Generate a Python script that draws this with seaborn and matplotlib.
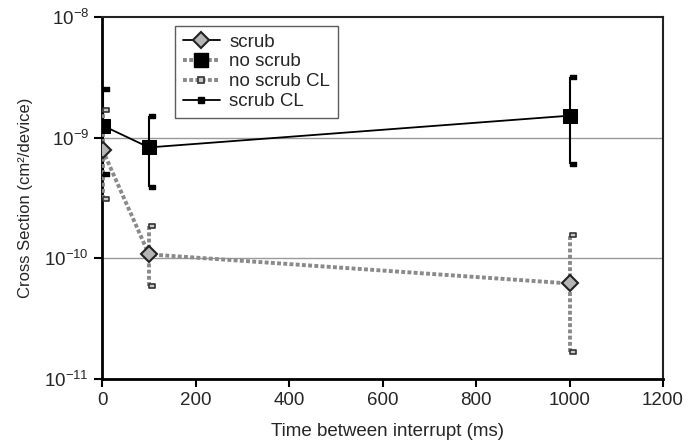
import numpy as np
import pandas as pd
import matplotlib
matplotlib.use("Agg")
import matplotlib.pyplot as plt
from matplotlib.lines import Line2D
from matplotlib.path import Path
import seaborn as sns

# data (log-scale cross sections)
time_ms = [1, 100, 1000]
no_scrub = [1.26e-9, 8.3e-10, 1.52e-9]
no_scrub_hi = [2.55e-9, 1.52e-9, 3.2e-9]
no_scrub_lo = [5.0e-10, 3.9e-10, 6.0e-10]
scrub = [7.9e-10, 1.08e-10, 6.2e-11]
scrub_hi = [1.7e-9, 1.84e-10, 1.55e-10]
scrub_lo = [3.1e-10, 5.9e-11, 1.67e-11]

x_ticks = [0, 200, 400, 600, 800, 1000, 1200]
y_ticks = [1e-11, 1e-10, 1e-9, 1e-8]
y_ticklabels = [r"$\mathregular{10^{-11}}$", r"$\mathregular{10^{-10}}$",
                r"$\mathregular{10^{-9}}$", r"$\mathregular{10^{-8}}$"]

sns.set_style("white")
plt.rcParams["font.family"] = ["Liberation Sans", "DejaVu Sans"]

df = pd.DataFrame({
    "time": time_ms * 2,
    "cs": no_scrub + scrub,
    "series": ["no scrub"] * 3 + ["scrub"] * 3,
})

# cap marker: small flat rectangle sitting just right of the bar
cap = Path([(0, -0.4), (1.1, -0.4), (1.1, 0.4), (0, 0.4), (0, -0.4)],
           [Path.MOVETO, Path.LINETO, Path.LINETO, Path.LINETO, Path.CLOSEPOLY])

fig = plt.figure(figsize=(6.95, 4.44), dpi=100)
ax = fig.add_axes([0.147, 0.146, 0.807, 0.816])

gray = "#8a8a8a"
dots = (0, (1, 0.6))

# error bars
ax.vlines(time_ms, no_scrub_lo, no_scrub_hi, color="black", lw=1.5, zorder=3)
ax.vlines(time_ms, scrub_lo, scrub_hi, color=gray, lw=2.8, linestyles=dots, zorder=3)
ax.plot(time_ms + time_ms, no_scrub_lo + no_scrub_hi, ls="none", marker=cap,
        ms=9, mfc="black", mec="black", mew=1, zorder=4)
ax.plot(time_ms + time_ms, scrub_lo + scrub_hi, ls="none", marker=cap,
        ms=9, mfc="#c8c8c8", mec="#333333", mew=1.2, zorder=4)

# main series
sns.lineplot(data=df[df.series == "no scrub"], x="time", y="cs", ax=ax,
             color="black", lw=1.3, marker="s", markersize=9.5,
             markerfacecolor="black", markeredgecolor="black", zorder=5)
sns.lineplot(data=df[df.series == "scrub"], x="time", y="cs", ax=ax,
             color=gray, lw=2.8, linestyle=dots, marker="D", markersize=8,
             markerfacecolor="#b5b5b5", markeredgecolor="#222222", markeredgewidth=1.5,
             zorder=5)

ax.set_yscale("log")
ax.set_ylim(1e-11, 1e-8)
ax.set_xlim(0, 1200)
ax.set_xticks(x_ticks)
ax.set_yticks(y_ticks)
ax.set_yticklabels(y_ticklabels)
ax.minorticks_off()
ax.yaxis.set_minor_locator(matplotlib.ticker.NullLocator())
for yv in [1e-10, 1e-9]:
    ax.axhline(yv, color="#999999", lw=1, zorder=1)

ax.tick_params(axis="both", direction="out", length=6, width=1.5, labelsize=13.5,
               color="black", left=True, bottom=True)
for side in ["left", "bottom"]:
    ax.spines[side].set_linewidth(2)
    ax.spines[side].set_color("black")
for side in ["top", "right"]:
    ax.spines[side].set_linewidth(1.5)
    ax.spines[side].set_color("#222222")

ax.set_xlabel("Time between interrupt (ms)", fontsize=13.5)
ax.xaxis.set_label_coords(0.508, -0.12, transform=ax.transAxes)
ax.xaxis.label.set_va("top")
ax.set_ylabel("Cross Section (cm²/device)", fontsize=12, labelpad=8)

handles = [
    Line2D([], [], color="black", lw=1.3, marker="D", ms=8,
           mfc="#b5b5b5", mec="#222222", mew=1.5),
    Line2D([], [], color=gray, lw=2.8, ls=dots, marker="s", ms=9.5,
           mfc="black", mec="black"),
    Line2D([], [], color=gray, lw=2.8, ls=dots, marker="s", ms=5,
           mfc="#c8c8c8", mec="#333333", mew=1.2),
    Line2D([], [], color="black", lw=1.3, marker="s", ms=5,
           mfc="black", mec="black"),
]
labels = ["scrub", "no scrub", "no scrub CL", "scrub CL"]
leg = ax.legend(handles, labels, loc="upper left", bbox_to_anchor=(0.13, 0.975),
                fontsize=13.5, frameon=True, fancybox=False, handlelength=2.0,
                handletextpad=0.5, labelspacing=0.15, borderpad=0.4, borderaxespad=0)
leg.get_frame().set_edgecolor("#333333")
leg.get_frame().set_linewidth(1)

fig.savefig("out.png", dpi=100)
